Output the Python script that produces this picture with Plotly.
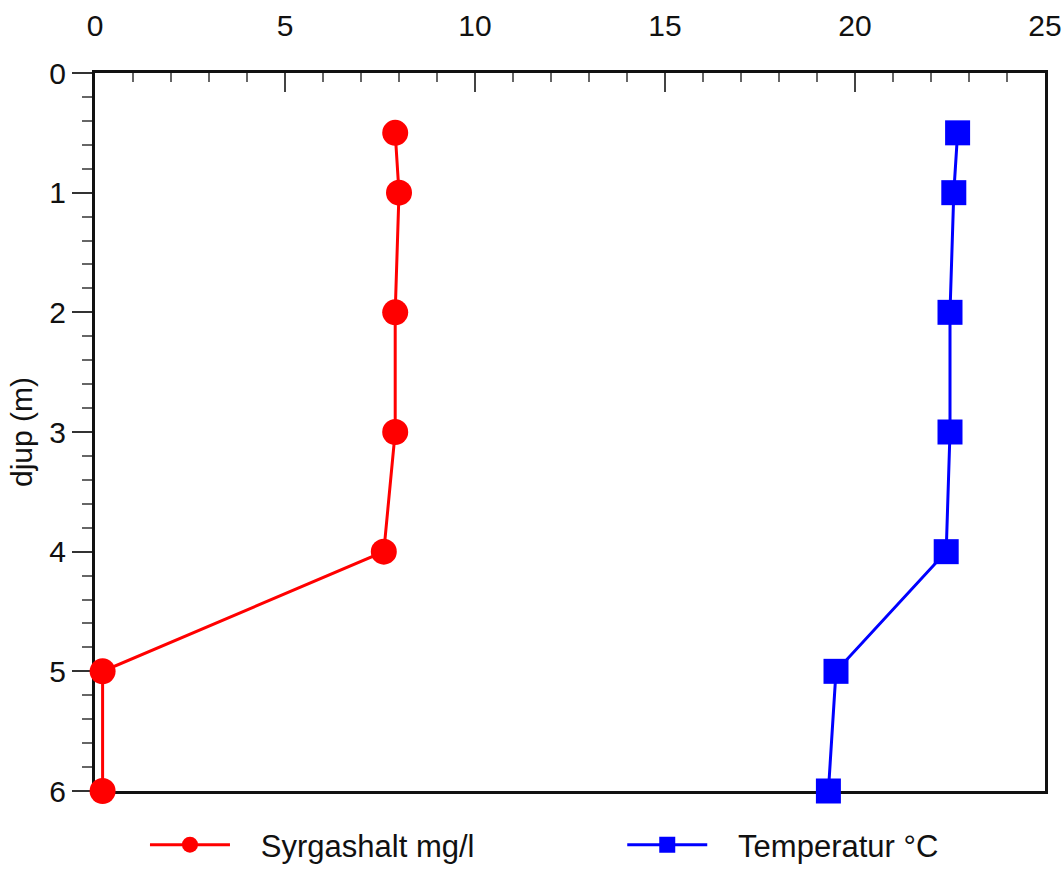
import plotly.graph_objects as go

depth = [0.5, 1, 2, 3, 4, 5, 6]
syrgashalt = [7.9, 8.0, 7.9, 7.9, 7.6, 0.2, 0.2]
temperatur = [22.7, 22.6, 22.5, 22.5, 22.4, 19.5, 19.3]
x_ticks = [0, 5, 10, 15, 20, 25]
y_ticks = [0, 1, 2, 3, 4, 5, 6]

FONT = "Liberation Sans, Arial, sans-serif"
GAP = "\u00a0" * 3

fig = go.Figure()
fig.add_trace(go.Scatter(
    x=syrgashalt, y=depth, mode="lines+markers", name=GAP + "Syrgashalt mg/l",
    line=dict(color="#FF0000", width=3),
    marker=dict(symbol="circle", size=26, color="#FF0000"),
    cliponaxis=False, legend="legend",
))
fig.add_trace(go.Scatter(
    x=temperatur, y=depth, mode="lines+markers", name=GAP + "Temperatur °C",
    line=dict(color="#0000FF", width=3),
    marker=dict(symbol="square", size=25, color="#0000FF"),
    cliponaxis=False, legend="legend2",
))

leg_common = dict(
    orientation="h", yanchor="bottom", xanchor="left", y=-81 / 718,
    font=dict(size=31, color="#111111", family=FONT), itemwidth=80,
    bgcolor="rgba(0,0,0,0)", borderwidth=0,
)

fig.update_layout(
    width=1064, height=872,
    margin=dict(l=95, r=19, t=73, b=81, autoexpand=False),
    paper_bgcolor="white", plot_bgcolor="white",
    font=dict(family=FONT, size=30, color="#111111"),
    showlegend=True,
    legend=dict(x=0.0526, **leg_common),
    legend2=dict(x=0.555, **leg_common),
    xaxis=dict(
        side="top", range=[0, 25], tickvals=x_ticks, ticktext=[str(v) for v in x_ticks],
        ticks="inside", ticklen=19, tickwidth=2, tickcolor="#444444",
        minor=dict(dtick=1, ticks="inside", ticklen=9, tickwidth=2, tickcolor="#666666", showgrid=False),
        showline=True, linewidth=3, linecolor="#111111", mirror=True,
        showgrid=False, zeroline=False, ticklabelstandoff=22,
        tickfont=dict(size=30), layer="below traces", automargin=False,
    ),
    yaxis=dict(
        range=[6, 0], tickvals=y_ticks, ticktext=[str(v) for v in y_ticks],
        ticks="outside", ticklen=20, tickwidth=2, tickcolor="#333333",
        minor=dict(dtick=0.2, ticks="outside", ticklen=10, tickwidth=2, tickcolor="#666666", showgrid=False),
        showline=True, linewidth=3, linecolor="#111111", mirror=True,
        showgrid=False, zeroline=False,
        title=dict(text="djup (m)", font=dict(size=30), standoff=8),
        tickfont=dict(size=30), layer="below traces", automargin=False,
    ),
)

fig.write_html("out.html")
